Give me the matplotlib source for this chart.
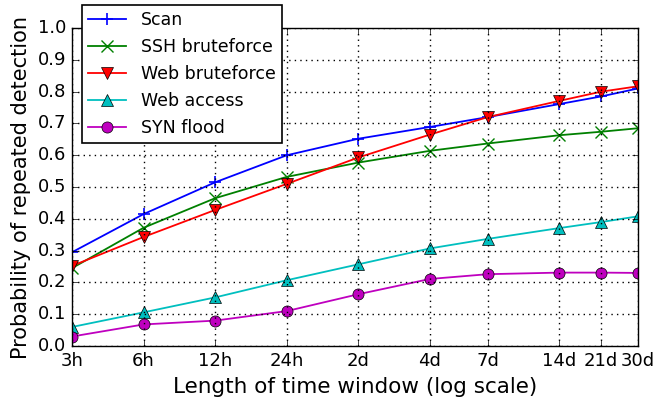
import matplotlib
matplotlib.use("Agg")
import matplotlib.pyplot as plt

# time windows in hours
hours = [3, 6, 12, 24, 48, 96, 168, 336, 504, 720]
tick_labels = ["3h", "6h", "12h", "24h", "2d", "4d", "7d", "14d", "21d", "30d"]

scan = [0.295, 0.415, 0.515, 0.60, 0.652, 0.689, 0.72, 0.761, 0.785, 0.81]
ssh_brute = [0.245, 0.372, 0.465, 0.532, 0.577, 0.614, 0.637, 0.663, 0.674, 0.685]
web_brute = [0.252, 0.343, 0.428, 0.51, 0.593, 0.665, 0.72, 0.771, 0.80, 0.817]
web_access = [0.06, 0.106, 0.153, 0.207, 0.257, 0.307, 0.337, 0.371, 0.39, 0.408]
syn_flood = [0.03, 0.068, 0.08, 0.11, 0.163, 0.211, 0.226, 0.231, 0.231, 0.23]

plt.style.use("classic")
plt.rcParams["font.family"] = ["DejaVu Sans"]

fig = plt.figure(figsize=(6.58, 4.01), dpi=100, facecolor="white")
ax = fig.add_axes([0.1094, 0.137, 0.8602, 0.793])

ms = 8
lw = 1.3
ax.plot(hours, scan, "b-+", lw=lw, ms=ms, mew=1.2, label="Scan")
ax.plot(hours, ssh_brute, "g-x", lw=lw, ms=ms, mew=1.0, label="SSH bruteforce")
ax.plot(hours, web_brute, "r-v", lw=lw, ms=ms, label="Web bruteforce")
ax.plot(hours, web_access, "c-^", lw=lw, ms=ms, label="Web access")
ax.plot(hours, syn_flood, "m-o", lw=lw, ms=ms, label="SYN flood")

ax.set_xscale("log")
ax.set_xlim(3, 720)
ax.set_ylim(0, 1.0)
ax.set_xticks(hours)
ax.set_xticklabels(tick_labels)
ax.minorticks_off()
ax.set_yticks([i / 10 for i in range(11)])
ax.tick_params(labelsize=13)
ax.grid(True, color="black", linestyle=":", linewidth=1.0)

ax.set_xlabel("Length of time window (log scale)", fontsize=15.5)
ax.set_ylabel("Probability of repeated detection", fontsize=15)

leg = ax.legend(loc="upper left", bbox_to_anchor=(0.0177, 1.072), borderaxespad=0,
                fontsize=12.5, numpoints=1, handlelength=2.2, handletextpad=0.85,
                labelspacing=0.52, borderpad=0.35, fancybox=False)
leg.get_frame().set_linewidth(1.2)

fig.savefig("out.png", dpi=100, facecolor="white")
